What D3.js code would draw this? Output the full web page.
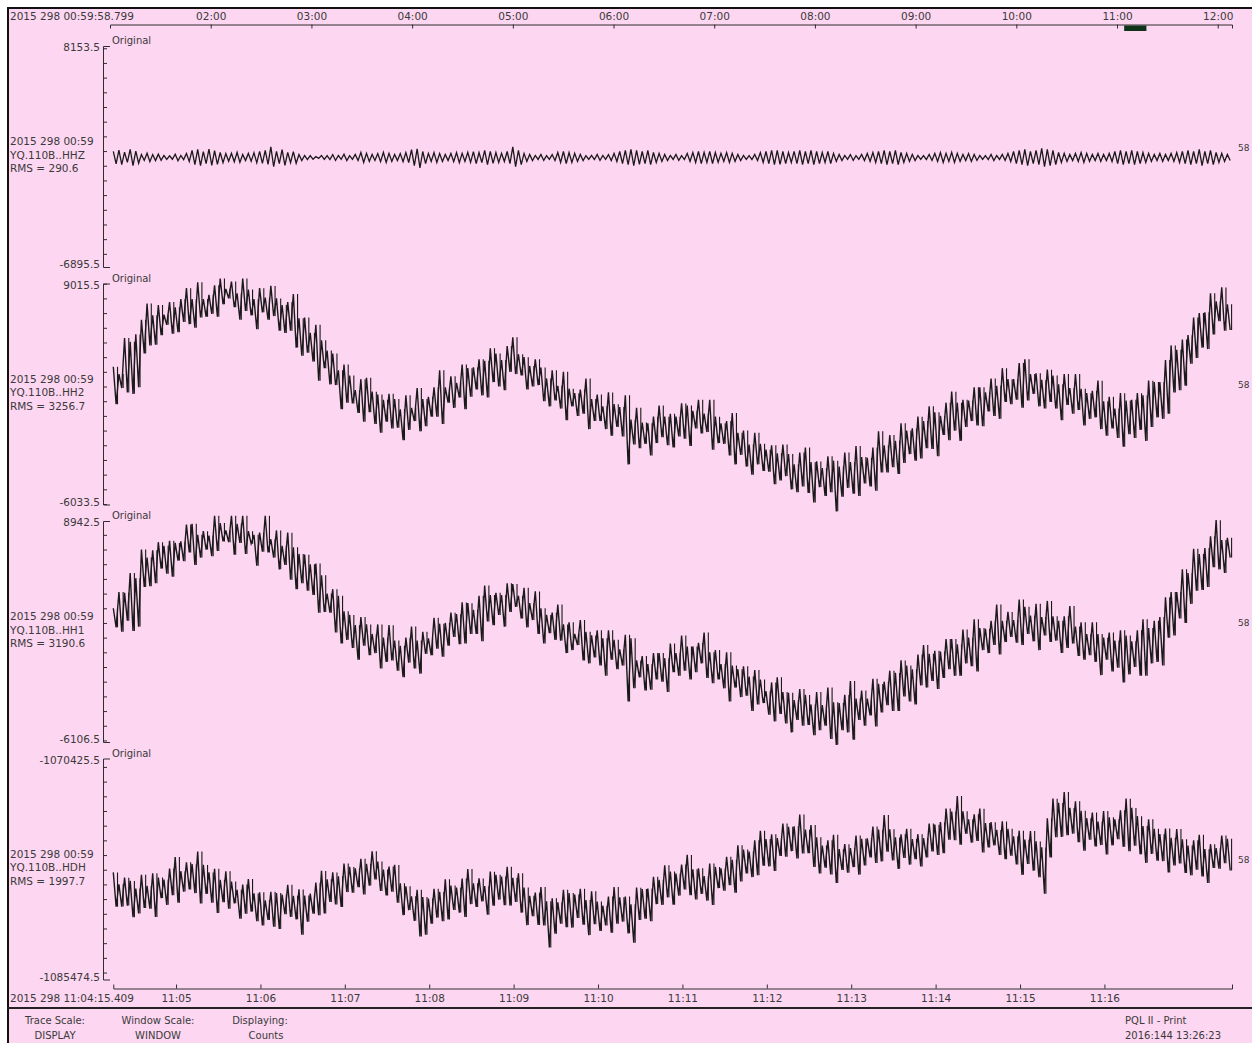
<!DOCTYPE html>
<html>
<head>
<meta charset="utf-8">
<script src="https://cdn.jsdelivr.net/npm/d3@7"></script>
<style>
  html, body { margin: 0; padding: 0; background: #ffffff; }
  svg { display: block; }
  text { font-family: "DejaVu Sans", sans-serif; fill: #3a3a3a; }
</style>
</head>
<body>
<svg id="chart" width="1252" height="1043"></svg>
<script>
// ---------------- data ----------------
const channelNames = ["YQ.110B..HHZ", "YQ.110B..HH2", "YQ.110B..HH1", "YQ.110B..HDH"];
const rmsValues = [290.6, 3256.7, 3190.6, 1997.7];
const windowMax = [8153.5, 9015.5, 8942.5, -1070425.5];
const windowMin = [-6895.5, -6033.5, -6106.5, -1085474.5];
const traceStartLabel = "2015 298 00:59";
const rightTag = "58";
const hourTickLabels = ["02:00", "03:00", "04:00", "05:00", "06:00", "07:00", "08:00", "09:00", "10:00", "11:00", "12:00"];
const minuteTickLabels = ["11:05", "11:06", "11:07", "11:08", "11:09", "11:10", "11:11", "11:12", "11:13", "11:14", "11:15", "11:16"];
const footerLeft = [["Trace Scale:", "DISPLAY"], ["Window Scale:", "WINDOW"], ["Displaying:", "Counts"]];
const footerRight = ["PQL II - Print", "2016:144 13:26:23"];

// maximum and minimum of each 4-second bin, in counts
const binSeconds = 4;

const hhzHigh = [980,1060,920,1120,990,770,850,760,790,700,
 680,780,700,840,1050,1110,960,1130,1030,900,
 830,850,910,770,840,890,980,1040,1290,970,
 1100,910,960,760,700,690,630,700,690,760,
 700,780,690,770,900,840,770,830,910,840,
 770,830,900,1100,1150,970,840,900,830,770,
 840,900,840,910,960,900,1040,980,900,840,
 970,1280,1040,840,770,700,770,690,760,900,
 970,900,840,770,690,700,770,700,760,840,
 970,1040,1110,1040,970,1050,900,840,770,700,
 770,690,840,900,970,910,980,900,840,900,
 840,770,700,690,770,900,970,1040,1050,970,
 900,980,1040,970,1050,970,900,970,840,770,
 700,760,690,770,840,900,970,1040,970,1050,
 900,840,770,700,690,770,840,900,840,910,
 840,770,830,770,700,690,770,700,770,840,
 970,1040,1110,970,1050,1180,1110,1040,900,840,
 770,840,900,840,770,840,770,840,970,1040,
 970,1050,970,900,840,770,840,770,840,900,
 970,1040,970,1110,970,1040,900,840,770];
const hhzLow = [130,70,230,10,170,360,280,350,370,430,
 440,340,420,290,80,0,150,20,90,210,
 300,270,230,350,300,200,160,90,-60,140,
 30,210,170,350,420,440,500,430,420,360,
 440,350,430,350,220,290,360,280,230,290,
 350,280,220,10,-150,150,290,220,290,350,
 280,210,290,230,150,220,80,160,220,290,
 150,-60,80,290,350,430,360,430,350,220,
 150,220,290,350,430,420,360,430,350,290,
 150,80,10,90,150,80,220,290,350,430,
 360,420,290,220,150,220,150,230,290,220,
 290,350,430,420,360,220,150,80,90,150,
 220,150,80,150,80,150,220,150,290,350,
 430,360,430,350,290,220,150,80,150,80,
 220,290,350,430,420,360,290,220,290,220,
 290,350,290,360,430,420,350,430,360,290,
 150,80,10,150,80,-60,10,80,220,290,
 350,290,220,290,350,290,350,290,150,80,
 150,80,150,220,290,350,290,350,290,220,
 150,80,150,10,150,80,220,290,350];

const hh2High = [3350,2850,5300,5050,5550,6550,7650,6850,7550,6900,
 7750,7400,7950,8700,7950,9100,7950,8250,8900,9350,
 8650,9150,8350,9350,8600,7950,8700,8050,8850,8000,
 7550,7750,8300,6650,6700,5650,6200,5150,4450,4250,
 3100,3500,2750,1750,2500,2600,1650,1450,1100,1500,
 1150,450,1400,550,1900,1150,1300,1950,3100,1950,
 2700,2250,3500,3250,3300,3850,3750,4600,4250,3800,
 4750,5350,4200,4000,3400,3850,3300,2550,3100,2050,
 3000,1850,1550,1800,2550,1150,1450,650,1600,800,
 600,1400,-250,550,-450,-500,-50,700,-50,150,
 -50,850,700,350,1100,150,1100,-50,-500,-350,
 200,-1150,-1000,-1950,-1150,-1900,-2300,-2000,-2550,-1950,
 -2600,-3300,-2500,-2150,-3150,-3100,-3550,-2750,-3050,-3450,
 -2500,-3150,-2050,-2800,-2850,-2150,-1050,-2000,-1300,-1700,
 -500,-1000,-850,-50,-350,650,250,0,900,1650,
 900,1100,1050,1950,1950,1600,2550,2050,3250,2500,
 2500,3600,3850,2850,2900,2450,3150,2750,2150,2850,
 1900,2850,1850,1550,1700,2400,1000,1300,500,1550,
 1050,1100,1550,1400,2400,2300,2300,3800,4800,4500,
 5200,5500,6700,7000,7050,8350,7800,8750,7600];
const hh2Low = [800,1900,1600,1500,1950,4250,4800,4850,5500,6200,
 5600,5700,6400,6250,6000,6700,6750,6950,6750,7600,
 8000,7400,6550,7150,6850,5900,7050,6550,6800,5800,
 5650,5800,4650,4100,4300,3700,2400,3250,2150,2100,
 450,900,850,200,-400,250,-550,-1150,-400,-850,
 -800,-1650,-950,-350,-1050,-700,-50,-50,-550,900,
 550,1250,450,1300,1800,1400,1250,2300,2000,1750,
 3000,2850,2750,1800,2000,2100,1000,650,1050,500,
 -300,650,0,150,-900,-350,-350,-900,-1350,-750,
 -1400,-3300,-1950,-2200,-1900,-2700,-1850,-1450,-2000,-2150,
 -1400,-1550,-2050,-850,-1200,-1100,-2300,-1850,-1900,-2700,
 -3300,-2650,-3450,-4000,-3300,-3750,-3800,-4650,-4400,-4100,
 -5000,-5200,-4800,-5250,-5900,-4850,-5450,-5200,-6500,-5500,
 -4900,-5300,-5450,-4600,-4800,-5100,-3850,-3850,-3500,-3950,
 -3200,-2600,-3050,-2900,-2200,-2250,-2750,-1300,-1650,-1000,
 -1700,-750,-350,-650,-700,300,0,-200,950,800,
 1100,550,1050,1500,650,500,950,500,-300,750,
 150,400,-650,-200,-100,-900,-1350,-850,-1500,-2100,
 -1250,-1500,-950,-1700,-750,-100,-200,150,1600,1750,
 2050,3550,3950,4650,4550,5550,6450,5800,5850];

const hh1High = [3000,4100,4050,5400,5050,7000,6450,6950,7500,7250,
 7600,7450,7550,8700,8750,8000,8250,7950,9300,8800,
 8300,9300,8750,9300,8250,8000,8150,9300,7700,8300,
 7250,8150,7150,6700,6650,6000,6050,5250,4000,4300,
 3850,2800,2550,1850,2400,1900,1250,1900,1000,1850,
 800,450,1000,1750,800,1400,950,2350,1950,2000,
 2700,2600,3400,3350,2900,3850,4550,3900,4050,3900,
 4700,4650,3850,4400,3350,4150,3000,2550,2700,3250,
 1900,2050,1250,2200,1400,1150,1500,950,1500,850,
 200,1200,950,-550,-250,-800,-50,-50,-400,600,
 -50,1150,400,400,650,1350,0,150,-800,0,
 -900,-1150,-950,-1650,-1200,-1850,-2650,-2050,-1700,-2700,
 -2750,-3250,-2500,-2900,-3550,-2700,-3600,-2400,-3400,-3450,
 -2900,-1950,-3150,-2600,-3150,-1800,-2150,-2000,-1250,-1400,
 -550,-900,-1150,-150,500,-100,100,50,900,900,
 550,1550,1000,2250,1650,1600,2150,3250,2150,2750,
 2200,3600,3100,2500,3300,2400,3500,2450,2150,2450,
 3150,1750,2050,1250,2050,1250,1000,1350,800,1500,
 1150,750,1500,2250,1650,2150,2400,3750,4100,4100,
 5650,5400,7050,6700,7100,7900,9000,7650,7800];
const hh1Low = [1700,1400,2150,1450,1750,4450,4500,4700,5700,5350,
 5150,6250,6200,6800,5950,6450,7000,6550,6900,7550,
 7500,6650,7450,6700,7400,5900,6850,6800,6450,5650,
 5950,4950,4300,4700,4200,3900,2700,2750,2700,1350,
 600,850,300,-500,450,-200,-50,-1100,-650,-550,
 -1250,-1700,-700,-1100,-1450,-100,-200,250,-300,450,
 1050,550,600,1250,1250,750,2100,1850,2550,1750,
 2750,3100,2300,1700,2200,1250,600,1300,850,800,
 -50,150,500,-550,-750,-350,-900,-1600,-500,-1150,
 -900,-3350,-2450,-1700,-2600,-2550,-1850,-2000,-2700,-1350,
 -1600,-1250,-1850,-1350,-750,-1750,-2100,-1850,-2450,-3350,
 -2400,-3050,-2950,-4000,-3550,-3450,-4250,-4700,-4200,-4850,
 -5450,-4600,-5000,-4950,-5650,-5300,-5000,-5900,-6300,-5300,
 -5450,-5950,-4600,-5000,-4300,-5050,-4100,-3600,-4000,-4000,
 -3000,-3350,-3550,-2250,-2400,-1950,-2500,-1750,-1150,-1600,
 -1600,-750,-950,-1300,150,-50,500,-150,700,1050,
 650,500,1250,750,150,1150,700,800,-50,300,
 600,-250,-500,-200,-650,-1550,-500,-1300,-1050,-2050,
 -1500,-1000,-1600,-1600,-750,-650,-900,1000,1150,2300,
 2000,3300,4200,4250,4450,5800,5650,5400,6450];

const hdhHigh = [-1078180,-1078990,-1078540,-1078760,-1079280,-1078350,-1079100,-1078240,-1078530,-1078670,
 -1077920,-1077130,-1078100,-1077490,-1077620,-1076760,-1077670,-1078180,-1077940,-1078690,
 -1078110,-1078800,-1079360,-1079010,-1078630,-1079610,-1079540,-1080080,-1079500,-1079580,
 -1079690,-1079030,-1079780,-1079340,-1079760,-1079630,-1078880,-1078080,-1078650,-1078180,
 -1078440,-1077580,-1077810,-1077910,-1077250,-1077600,-1076740,-1077440,-1077990,-1077780,
 -1077670,-1078920,-1079130,-1079810,-1079360,-1079860,-1079960,-1079300,-1079510,-1078650,
 -1079080,-1079220,-1078600,-1077950,-1078920,-1078590,-1079120,-1078130,-1078350,-1078460,
 -1077800,-1078550,-1078240,-1079210,-1079770,-1079560,-1079180,-1080150,-1079950,-1080220,
 -1079360,-1079580,-1079690,-1079300,-1080060,-1079470,-1080170,-1080450,-1079830,-1079180,
 -1079880,-1079820,-1080350,-1079220,-1079310,-1079280,-1078480,-1078690,-1077700,-1078120,
 -1078260,-1077650,-1076990,-1077970,-1077900,-1078440,-1077580,-1077810,-1077910,-1077120,
 -1077320,-1076330,-1076620,-1076760,-1076000,-1075350,-1075910,-1075580,-1075840,-1074850,
 -1075070,-1075040,-1074240,-1075270,-1074960,-1075790,-1076350,-1076000,-1075620,-1076600,
 -1076260,-1076520,-1075670,-1075890,-1075860,-1075060,-1075270,-1074280,-1075250,-1075800,
 -1075590,-1075210,-1075910,-1075580,-1075840,-1074850,-1074930,-1074760,-1073830,-1074040,
 -1072980,-1074020,-1074570,-1074230,-1073840,-1074820,-1074760,-1075290,-1074710,-1075210,
 -1075720,-1075340,-1075950,-1075370,-1076070,-1076480,-1074500,-1073160,-1073450,-1072710,
 -1073790,-1073340,-1073980,-1074490,-1074110,-1074720,-1074000,-1074430,-1074570,-1073950,
 -1073160,-1073790,-1074350,-1075020,-1074570,-1075210,-1075580,-1075200,-1075820,-1075230,
 -1075930,-1076350,-1076000,-1075620,-1076600,-1076260,-1076520,-1075670,-1075890];
const hdhLow = [-1080520,-1080510,-1080440,-1081230,-1080980,-1080600,-1080650,-1081220,-1079930,-1080390,
 -1079740,-1080240,-1079490,-1079340,-1079590,-1080300,-1079640,-1080240,-1080950,-1080210,
 -1080660,-1080290,-1081340,-1080990,-1080850,-1081510,-1081800,-1081420,-1081880,-1082040,
 -1081030,-1081210,-1081380,-1082430,-1081540,-1080990,-1081100,-1080980,-1080190,-1080370,
 -1080540,-1079520,-1079570,-1079190,-1079690,-1079080,-1078660,-1079450,-1079750,-1079500,
 -1080240,-1081090,-1080750,-1081480,-1082540,-1082430,-1081680,-1081260,-1081510,-1081390,
 -1080740,-1080920,-1081220,-1080340,-1080530,-1080150,-1081060,-1080450,-1080030,-1080410,
 -1080440,-1080190,-1080920,-1081770,-1081160,-1081760,-1081790,-1083300,-1082360,-1081670,
 -1081920,-1081940,-1081280,-1081740,-1082450,-1081710,-1082170,-1081790,-1082290,-1081680,
 -1081530,-1082330,-1082970,-1081420,-1081330,-1081500,-1080340,-1080390,-1079880,-1080380,
 -1079760,-1079340,-1079730,-1080020,-1079640,-1080100,-1080400,-1079250,-1079430,-1079050,
 -1079560,-1078800,-1078250,-1078500,-1078380,-1077730,-1077770,-1078080,-1077060,-1077110,
 -1076730,-1077230,-1076890,-1076880,-1077810,-1078250,-1077860,-1078320,-1078900,-1078020,
 -1078200,-1077820,-1078330,-1077710,-1077160,-1077540,-1077430,-1076770,-1077360,-1077940,
 -1077200,-1077650,-1077280,-1077780,-1077160,-1076750,-1076990,-1076880,-1075950,-1075990,
 -1076300,-1075550,-1076150,-1076040,-1076820,-1076480,-1076340,-1076990,-1077290,-1077040,
 -1077640,-1078350,-1077610,-1078060,-1078510,-1079630,-1077160,-1075790,-1075760,-1075650,
 -1075540,-1076130,-1076710,-1075960,-1076420,-1076320,-1076960,-1076340,-1075920,-1076440,
 -1076740,-1076360,-1076950,-1077530,-1076920,-1077380,-1077410,-1078190,-1077710,-1077570,
 -1078220,-1078380,-1078000,-1078460,-1078900,-1077880,-1077930,-1077550,-1078050];

const traceHigh = [hhzHigh, hh2High, hh1High, hdhHigh];
const traceLow = [hhzLow, hh2Low, hh1Low, hdhLow];

// ---------------- layout ----------------
const W = 1252, H = 1043;
const pink = "#fdd6f1";
const ink = "#2e2e2e";
const traceInk = "#1a1a1a";
const utc = (h, m, s = 0, ms = 0) => new Date(Date.UTC(2015, 9, 25, h, m, s, ms));
const parseHM = s => utc(+s.slice(0, 2), +s.slice(3, 5));
const fmt1 = v => v.toFixed(1);

const windowStart = utc(11, 4, 15, 409);
const windowEnd = utc(11, 17, 30, 700);
const overviewStart = utc(0, 59, 58, 799);
const overviewEnd = utc(12, 8, 30, 800);

const panelTop0 = 46, panelStep = 237.5, panelHeight = 221;
const axisX = 103;

const svg = d3.select("#chart");
svg.append("rect").attr("width", W).attr("height", H).attr("fill", "#ffffff");
svg.append("rect").attr("x", 7).attr("y", 7).attr("width", W - 7).attr("height", H - 7).attr("fill", pink);
svg.append("line").attr("x1", 7).attr("x2", W).attr("y1", 8).attr("y2", 8).attr("stroke", "#111").attr("stroke-width", 2);
svg.append("line").attr("x1", 8).attr("x2", 8).attr("y1", 7).attr("y2", H).attr("stroke", "#111").attr("stroke-width", 2);

function styleAxis(g, size) {
  g.selectAll("path, line").attr("stroke", ink).attr("stroke-width", 1);
  g.selectAll("text").attr("fill", "#3a3a3a").attr("font-size", size).attr("font-family", "DejaVu Sans");
}

// ---- overview time axis (top) ----
const xOverview = d3.scaleUtc().domain([overviewStart, overviewEnd]).range([110, 1232]);
const topAxis = d3.axisTop(xOverview)
  .tickValues(hourTickLabels.map(parseHM))
  .tickFormat(d3.utcFormat("%H:%M"))
  .tickSizeInner(-4).tickSizeOuter(-4).tickPadding(4.5);
svg.append("g").attr("transform", "translate(0,24.5)").call(topAxis).call(g => styleAxis(g, 10.5));
svg.append("text").attr("x", 10).attr("y", 20).attr("font-size", 10.5)
  .text("2015 298 00:59:58.799");
// marker for the displayed window
svg.append("rect")
  .attr("x", xOverview(windowStart)).attr("width", xOverview(windowEnd) - xOverview(windowStart))
  .attr("y", 25.5).attr("height", 5.5).attr("fill", "#0e3318");

// ---- trace time scale ----
const x = d3.scaleUtc().domain([windowStart, windowEnd]).range([113.3, 1232]);

// ---- panels ----
channelNames.forEach((name, i) => {
  const top = panelTop0 + i * panelStep;
  const bottom = top + panelHeight;
  const mid = (top + bottom) / 2;
  const y = d3.scaleLinear().domain([windowMin[i], windowMax[i]]).range([bottom, top]);

  const ticks = d3.range(Math.ceil(windowMin[i] / 1000) * 1000, windowMax[i], 1000);
  const yAxis = d3.axisRight(y).tickValues(ticks).tickFormat("")
    .tickSizeInner(4).tickSizeOuter(7);
  svg.append("g").attr("transform", `translate(${axisX},0)`).call(yAxis).call(g => styleAxis(g, 10));

  svg.append("text").attr("x", 100).attr("y", top + 5).attr("text-anchor", "end")
    .attr("font-size", 10.5).text(fmt1(windowMax[i]));
  svg.append("text").attr("x", 100).attr("y", bottom + 1).attr("text-anchor", "end")
    .attr("font-size", 10.5).text(fmt1(windowMin[i]));
  svg.append("text").attr("x", 112).attr("y", top - 2).attr("font-size", 10).text("Original");

  const info = [traceStartLabel, name, "RMS = " + fmt1(rmsValues[i])];
  info.forEach((s, j) => {
    svg.append("text").attr("x", 10).attr("y", mid - 11.5 + j * 13.5).attr("font-size", 10.5).text(s);
  });
  svg.append("text").attr("x", 1238).attr("y", mid - 6).attr("font-size", 9).attr("fill", "#555").text(rightTag);

  // zigzag through each bin's maximum then minimum
  const hi = traceHigh[i], lo = traceLow[i];
  const binMs = binSeconds * 1000;
  const pts = [];
  hi.forEach((v, k) => {
    const t0 = windowStart.getTime() + k * binMs;
    pts.push([new Date(t0), v]);
    pts.push([new Date(t0 + binMs / 2), lo[k]]);
  });
  const line = d3.line().x(d => x(d[0])).y(d => y(d[1]));
  svg.append("path").attr("d", line(pts)).attr("fill", "none")
    .attr("stroke", traceInk).attr("stroke-width", i === 0 ? 1.3 : 1.4)
    .attr("stroke-linejoin", "miter");

  // min/max bar for each bin on the broadband horizontals and pressure channel
  if (i > 0) {
    const bars = hi.map((v, k) => {
      const xm = x(new Date(windowStart.getTime() + k * binMs + binMs * 0.75));
      return `M${xm.toFixed(2)},${y(v).toFixed(2)}V${y(lo[k]).toFixed(2)}`;
    }).join("");
    svg.append("path").attr("d", bars).attr("fill", "none")
      .attr("stroke", traceInk).attr("stroke-width", 1.1);
  }
});

// ---- window time axis (bottom) ----
const bottomAxis = d3.axisBottom(x)
  .tickValues(minuteTickLabels.map(parseHM))
  .tickFormat(d3.utcFormat("%H:%M"))
  .tickSizeInner(-4).tickSizeOuter(-4).tickPadding(6.5);
svg.append("g").attr("transform", "translate(0,988.5)").call(bottomAxis).call(g => styleAxis(g, 10.5));
svg.append("text").attr("x", 10).attr("y", 1002).attr("font-size", 10.5).text("2015 298 11:04:15.409");

// ---- footer ----
svg.append("line").attr("x1", 7).attr("x2", W).attr("y1", 1008).attr("y2", 1008)
  .attr("stroke", "#222").attr("stroke-width", 2);
const footerX = [55, 158, 260];
footerLeft.forEach((pair, j) => {
  svg.append("text").attr("x", footerX[j]).attr("y", 1024).attr("text-anchor", "middle").attr("font-size", 10).text(pair[0]);
  svg.append("text").attr("x", footerX[j] + (j === 2 ? 6 : 0)).attr("y", 1039).attr("text-anchor", "middle").attr("font-size", 10).text(pair[1]);
});
footerRight.forEach((s, j) => {
  svg.append("text").attr("x", 1125).attr("y", 1024 + j * 15).attr("font-size", 10).text(s);
});
</script>
</body>
</html>
